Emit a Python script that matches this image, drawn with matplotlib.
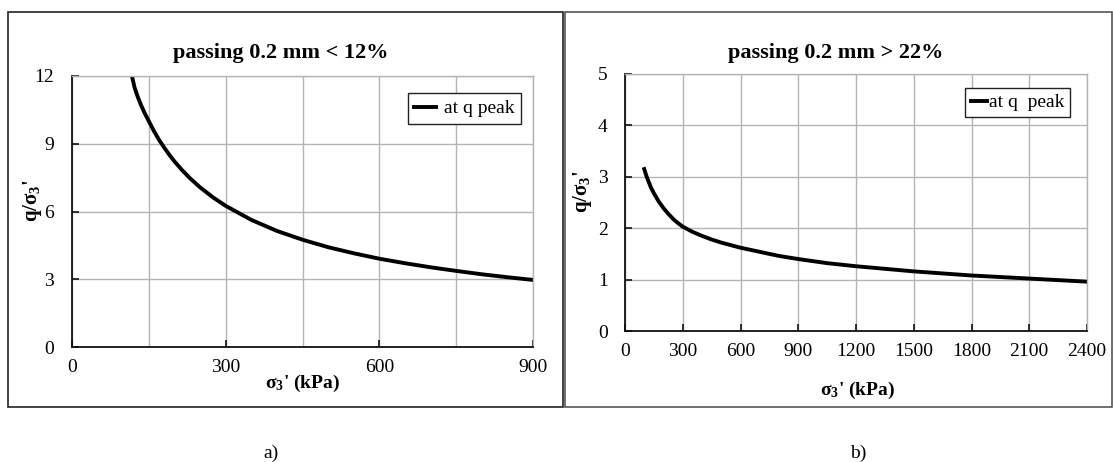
import matplotlib
matplotlib.use("Agg")
import matplotlib.pyplot as plt
from matplotlib.patches import Rectangle

plt.rcParams["font.family"] = ["Liberation Serif", "DejaVu Serif"]
plt.rcParams["mathtext.fontset"] = "custom"
plt.rcParams["mathtext.rm"] = "Liberation Serif"
plt.rcParams["mathtext.bf"] = "Liberation Serif:bold"

W, H = 1113, 462

# a) passing 0.2 mm < 12%
sigma_a = [117, 122, 128, 135, 142, 150, 160, 170, 180, 190, 200, 215, 230,
           250, 275, 300, 350, 400, 450, 500, 550, 600, 650, 700, 750, 800,
           850, 900]
ratio_a = [12.0, 11.5, 11.1, 10.7, 10.35, 10.0, 9.56, 9.17, 8.83, 8.51, 8.22,
           7.83, 7.48, 7.07, 6.63, 6.25, 5.63, 5.14, 4.75, 4.42, 4.15, 3.91,
           3.71, 3.53, 3.37, 3.22, 3.09, 2.97]

# b) passing 0.2 mm > 22%
sigma_b = [100, 110, 120, 135, 150, 175, 200, 225, 250, 275, 300, 350, 400,
           450, 500, 550, 600, 700, 800, 900, 1050, 1200, 1350, 1500, 1800,
           2100, 2400]
ratio_b = [3.15, 3.03, 2.93, 2.79, 2.68, 2.52, 2.39, 2.28, 2.18, 2.10, 2.03,
           1.93, 1.85, 1.78, 1.72, 1.67, 1.62, 1.54, 1.46, 1.40, 1.32, 1.26,
           1.21, 1.16, 1.08, 1.02, 0.96]

xticks_a = [0, 300, 600, 900]
xgrid_a = [150, 450, 750]
yticks_a = [0, 3, 6, 9, 12]
xticks_b = [0, 300, 600, 900, 1200, 1500, 1800, 2100, 2400]
yticks_b = [0, 1, 2, 3, 4, 5]

GRID = "#b4b4b4"


def px(x, y):
    return x / W, 1 - y / H


def box(x0, y0, x1, y1):
    return [x0 / W, 1 - y1 / H, (x1 - x0) / W, (y1 - y0) / H]


def style(ax, ypad):
    ax.grid(True, which="both", color=GRID, linewidth=1)
    ax.set_axisbelow(True)
    for s in ["top", "right"]:
        ax.spines[s].set_color(GRID)
        ax.spines[s].set_linewidth(1)
    for s in ["left", "bottom"]:
        ax.spines[s].set_color("#111111")
        ax.spines[s].set_linewidth(1.3)
    ax.tick_params(which="major", direction="in", length=5, width=1.2,
                   color="#111111", labelsize=14)
    ax.tick_params(axis="x", pad=9)
    ax.tick_params(axis="y", pad=ypad)
    ax.tick_params(which="minor", length=0)


fig = plt.figure(figsize=(W / 100, H / 100), dpi=100)

# panel frames
fig.patches.append(Rectangle(px(8, 407), 555 / W, 395 / H, transform=fig.transFigure,
                             fill=False, edgecolor="#222222", linewidth=1.2))
fig.patches.append(Rectangle(px(565, 407), 547 / W, 395 / H, transform=fig.transFigure,
                             fill=False, edgecolor="#555555", linewidth=1.2))

# left chart
ax1 = fig.add_axes(box(72, 76, 533, 347))
ax1.plot(sigma_a, ratio_a, color="black", linewidth=2.8, label="at q peak",
         solid_joinstyle="round")
ax1.set_xlim(0, 900)
ax1.set_ylim(0, 12)
ax1.set_xticks(xticks_a)
ax1.set_xticks(xgrid_a, minor=True)
ax1.set_yticks(yticks_a)
style(ax1, 13)
leg1 = ax1.legend(loc="upper right", bbox_to_anchor=(0.974, 0.937), borderaxespad=0,
                  fontsize=14, fancybox=False, framealpha=1, edgecolor="#222222",
                  handlelength=1.1, handletextpad=0.4, borderpad=0.35)
leg1.get_frame().set_linewidth(1)

# right chart
ax2 = fig.add_axes(box(625, 74, 1087, 331))
ax2.plot(sigma_b, ratio_b, color="black", linewidth=2.8, label="at q  peak",
         solid_joinstyle="round")
ax2.set_xlim(0, 2400)
ax2.set_ylim(0, 5)
ax2.set_xticks(xticks_b)
ax2.set_yticks(yticks_b)
style(ax2, 12.5)
leg2 = ax2.legend(loc="upper right", bbox_to_anchor=(0.963, 0.946), borderaxespad=0,
                  fontsize=14, fancybox=False, framealpha=1, edgecolor="#222222",
                  handlelength=0.8, handletextpad=0.1, borderpad=0.3)
leg2.get_frame().set_linewidth(1)

# titles and axis labels
fig.text(*px(281, 53), "passing 0.2 mm < 12%", fontsize=16, fontweight="bold",
         ha="center", va="center")
fig.text(*px(836, 53), "passing 0.2 mm > 22%", fontsize=16, fontweight="bold",
         ha="center", va="center")

xlab = r"$\mathbf{\sigma_3}$' (kPa)"
ylab = r"q/$\mathbf{\sigma_3}$'"
fig.text(*px(303, 383), xlab, fontsize=14, fontweight="bold", ha="center", va="center")
fig.text(*px(858, 390), xlab, fontsize=14, fontweight="bold", ha="center", va="center")
fig.text(*px(32, 201), ylab, fontsize=15, fontweight="bold", ha="center", va="center",
         rotation=90)
fig.text(*px(583, 192), ylab, fontsize=15, fontweight="bold", ha="center", va="center",
         rotation=90)

fig.text(*px(271, 453), "a)", fontsize=14, ha="center", va="center")
fig.text(*px(858, 453), "b)", fontsize=14, ha="center", va="center")

fig.savefig("out.png", dpi=100)
